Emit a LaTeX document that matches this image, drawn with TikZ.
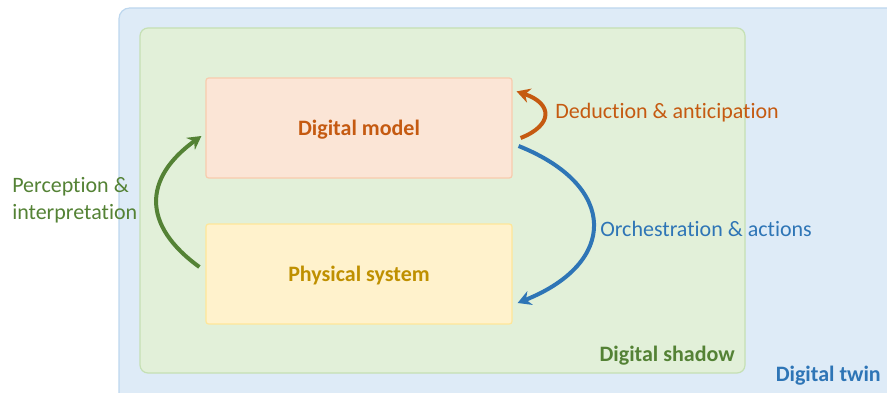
\documentclass[tikz,border=0pt]{standalone}
\usepackage{fontspec}
\setmainfont{Carlito}[Ligatures=NoCommon]
\usetikzlibrary{arrows.meta}

\definecolor{twinfill}{HTML}{DEEBF7}
\definecolor{twinline}{HTML}{BDD7EE}
\definecolor{shadowfill}{HTML}{E2F0D9}
\definecolor{shadowline}{HTML}{C5E0B4}
\definecolor{modelfill}{HTML}{FBE5D6}
\definecolor{modelline}{HTML}{F8CBAD}
\definecolor{physfill}{HTML}{FFF2CC}
\definecolor{physline}{HTML}{FFE699}
\definecolor{orangetext}{HTML}{C55A11}
\definecolor{bluetext}{HTML}{2E75B6}
\definecolor{greentext}{HTML}{548235}
\definecolor{goldtext}{HTML}{BF9000}

\begin{document}
\begin{tikzpicture}[ x=0.75pt, y=-0.75pt, >={Stealth[length=10pt,width=11pt]},
        every node/.style={ font=\fontsize{16.5}{20}\selectfont },
        panel/.style={ rectangle, draw, line width=0.9pt, inner sep=0pt },
        flow/.style={ ->, line width=3pt },
        caption/.style={ anchor=west, inner sep=0pt, align=left } ]
        \useasboundingbox (0,0) rectangle (887,392);
        \clip (0,0) rectangle (887,392);

        \node[panel, rounded corners=8pt, fill=twinfill, draw=twinline,
          minimum width=660.75pt, minimum height=309pt] (twin) at (559.5,214) {};
        \node[panel, rounded corners=6pt, fill=shadowfill, draw=shadowline,
          minimum width=453.75pt, minimum height=258.75pt] (shadow) at (442.5,200.5) {};

        \foreach \n/\y/\f/\d/\t/\c in {model/128/modelfill/modelline/Digital model/orangetext,
          phys/274/physfill/physline/Physical system/goldtext}
        \node[panel, rounded corners=2pt, fill=\f, draw=\d, text=\c, font=\fontsize{16.5}{20}\selectfont\bfseries,
          minimum width=229.5pt, minimum height=75pt, text depth=0pt] (\n) at (359,\y) {\t};

        \node[anchor=east, inner sep=0pt, text=greentext, font=\fontsize{16.5}{20}\selectfont\bfseries]
          (shadowlbl) at (735,356) {Digital shadow};
        \node[anchor=east, inner sep=0pt, text=bluetext, font=\fontsize{16.5}{20}\selectfont\bfseries]
          (twinlbl) at (881,376) {Digital twin};

        \node[caption, text=orangetext] (deduce) at (555,113) {Deduction \& anticipation};
        \node[caption, text=bluetext] (orchestrate) at (600,229) {Orchestration \& actions};
        \node[caption, text=greentext] (perceive) at (12,200) {Perception \&\\interpretation};

        % loop arrows
        \draw[flow, greentext] ([xshift=-4.5pt,yshift=5.25pt]phys.west)
          .. controls +(-58,-42) and +(-58,42) .. ([xshift=-3pt,yshift=-6pt]model.west);
        \draw[flow, orangetext] ([xshift=6pt,yshift=-7.5pt]model.east)
          .. controls +(33,-13) and +(36,12) .. ([xshift=3pt,yshift=-10.5pt]model.north east);
        \draw[flow, bluetext] ([xshift=4.5pt,yshift=-13.5pt]model.east)
          .. controls +(100,40) and +(100,-40) .. ([xshift=3.75pt,yshift=-21.75pt]phys.east);
      \end{tikzpicture}
\end{document}
